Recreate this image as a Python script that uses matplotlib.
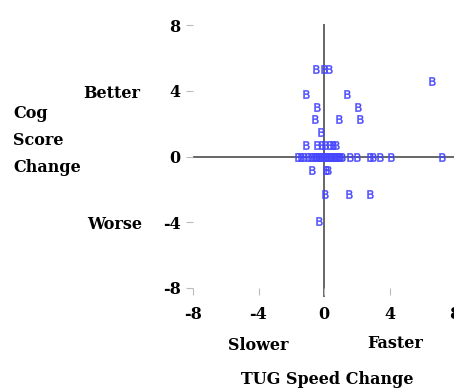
import matplotlib
matplotlib.use("Agg")
import matplotlib.pyplot as plt

# TUG speed change (x) vs cognitive score change (y)
tug_change = [
    -0.5, 0.0, 0.3, 6.6,
    -1.1, 1.4,
    -0.4, 2.1,
    -0.55, 0.9, 2.2,
    -0.2,
    -1.1, -0.4, -0.15, 0.05, 0.35, 0.55, 0.75,
    -1.6, -1.4, -1.2, -1.0, -0.8, -0.6, -0.5, -0.4, -0.3, -0.2, -0.1, 0.0,
    0.1, 0.2, 0.3, 0.4, 0.5, 0.6, 0.7, 0.8, 0.9, 1.0, 1.1,
    1.6, 2.0, 2.8, 3.0, 3.4, 4.1, 7.2,
    -0.75, 0.1, 0.25,
    0.05, 1.5, 2.8,
    -0.3,
]
cog_change = [
    5.3, 5.3, 5.3, 4.6,
    3.8, 3.8,
    3.0, 3.0,
    2.3, 2.3, 2.3,
    1.5,
    0.7, 0.7, 0.7, 0.7, 0.7, 0.7, 0.7,
    0, 0, 0, 0, 0, 0, 0, 0, 0, 0, 0, 0,
    0, 0, 0, 0, 0, 0, 0, 0, 0, 0, 0,
    0, 0, 0, 0, 0, 0, 0,
    -0.85, -0.85, -0.85,
    -2.3, -2.3, -2.3,
    -3.9,
]
ticks = [-8, -4, 0, 4, 8]

font = dict(family="DejaVu Serif", weight="bold", size=11.5)

fig = plt.figure(figsize=(4.54, 3.9), dpi=100)
ax = fig.add_axes([193 / 454, 102 / 390, 262 / 454, 263 / 390])

ax.axhline(0, color="#666666", lw=1.4, zorder=1)
ax.plot([0, 0], [-8.5, 8], color="#666666", lw=1.4, zorder=1, clip_on=False)

ax.plot(tug_change, cog_change, linestyle="none", marker=r"$\mathrm{B}$",
        markersize=6, color="#4646ff", markeredgewidth=0.3, zorder=3)

ax.set_xlim(-8, 8)
ax.set_ylim(-8, 8)
ax.set_xticks(ticks)
ax.set_yticks(ticks)
ax.set_xticklabels([str(t) for t in ticks], fontdict=font)
ax.set_yticklabels([str(t) for t in ticks], fontdict=font)
ax.tick_params(direction="out", length=5, width=0.8, color="#bbbbbb", pad=4)
ax.tick_params(axis="x", pad=8)
for s in ax.spines.values():
    s.set_visible(False)

fig.text(13 / 454, 1 - 113 / 390, "Cog", ha="left", va="center", **font)
fig.text(13 / 454, 1 - 140 / 390, "Score", ha="left", va="center", **font)
fig.text(13 / 454, 1 - 168 / 390, "Change", ha="left", va="center", **font)
fig.text(140 / 454, 1 - 93 / 390, "Better", ha="right", va="center", **font)
fig.text(142 / 454, 1 - 225 / 390, "Worse", ha="right", va="center", **font)
fig.text(258 / 454, 1 - 345 / 390, "Slower", ha="center", va="center", **font)
fig.text(395 / 454, 1 - 343 / 390, "Faster", ha="center", va="center", **font)
fig.text(327 / 454, 1 - 380 / 390, "TUG Speed Change", ha="center", va="center", **font)

fig.savefig("out.png", dpi=100)
